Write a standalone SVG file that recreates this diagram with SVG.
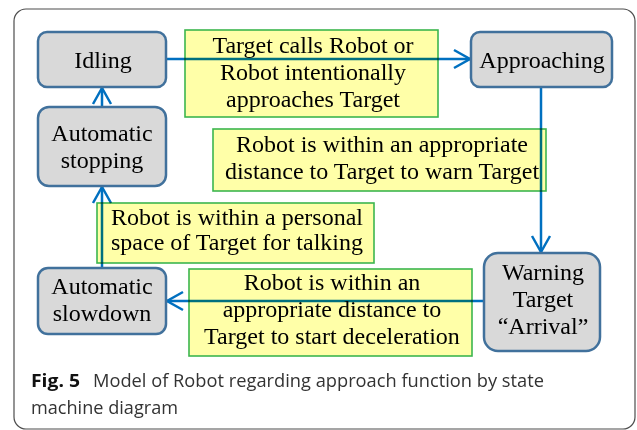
<svg xmlns="http://www.w3.org/2000/svg" width="637" height="430" viewBox="0 0 637 430">
  <style>
    .frame { fill: #ffffff; stroke: #4d4d4d; stroke-width: 1.2; }
    .state rect { fill: #d9d9d9; stroke: #41719c; stroke-width: 2.5; }
    .state text, .guard text { font-family: "Liberation Serif", "Times New Roman", serif; font-size: 24px; fill: #000000; text-anchor: middle; }
    .guard rect { fill: #ffffa8; stroke: #3cb64e; stroke-width: 1.6; mix-blend-mode: multiply; }
    .conn path { fill: none; stroke: #0070c0; stroke-width: 2.5; }
    .cap { font-family: "Open Sans", "Noto Sans", "DejaVu Sans", sans-serif; font-size: 18px; fill: #333333; }
    .cap .fig { font-weight: bold; fill: #111111; }
  </style>
  <defs>
    <marker id="open-arrow" markerUnits="userSpaceOnUse" markerWidth="20" markerHeight="22" refX="17" refY="10" orient="auto" overflow="visible">
      <path d="M1,1 L17,10 L1,19" fill="none" stroke="#0070c0" stroke-width="2.5" stroke-linejoin="miter"/>
    </marker>
  </defs>

  <rect class="frame" x="14" y="9" width="621" height="420" rx="12" ry="12"/>

  <!-- transitions (drawn under the guard labels) -->
  <g id="connectors" class="conn">
    <path d="M166,59 H470" marker-end="url(#open-arrow)"/>
    <path d="M541,87 V252" marker-end="url(#open-arrow)"/>
    <path d="M484,301 H167" marker-end="url(#open-arrow)"/>
    <path d="M102,268 V187" marker-end="url(#open-arrow)"/>
    <path d="M102,107 V88" marker-end="url(#open-arrow)"/>
  </g>

  <!-- states -->
  <g id="idling" class="state">
    <rect x="38" y="32" width="128" height="55" rx="9"/>
    <text x="103" y="68">Idling</text>
  </g>
  <g id="approaching" class="state">
    <rect x="471" y="32" width="141" height="55" rx="9"/>
    <text x="542" y="68">Approaching</text>
  </g>
  <g id="auto-stopping" class="state">
    <rect x="38" y="107" width="128" height="79" rx="11"/>
    <text x="102" y="141">Automatic</text>
    <text x="102" y="168">stopping</text>
  </g>
  <g id="auto-slowdown" class="state">
    <rect x="38" y="268" width="128" height="66" rx="10"/>
    <text x="102" y="294">Automatic</text>
    <text x="102" y="321">slowdown</text>
  </g>
  <g id="warning" class="state">
    <rect x="484" y="253" width="116" height="98" rx="14"/>
    <text x="543" y="280">Warning</text>
    <text x="543" y="307">Target</text>
    <text x="543" y="334">“Arrival”</text>
  </g>

  <!-- guard conditions -->
  <g id="guard-call" class="guard">
    <rect x="185" y="30" width="253" height="87"/>
    <text x="313" y="53">Target calls Robot or</text>
    <text x="313" y="80">Robot intentionally</text>
    <text x="313" y="107">approaches Target</text>
  </g>
  <g id="guard-warn" class="guard">
    <rect x="213" y="129" width="333" height="62"/>
    <text x="382" y="152">Robot is within an appropriate</text>
    <text x="382" y="179">distance to Target to warn Target</text>
  </g>
  <g id="guard-personal" class="guard">
    <rect x="97" y="203" width="277" height="60"/>
    <text x="237" y="225">Robot is within a personal</text>
    <text x="237" y="250">space of Target for talking</text>
  </g>
  <g id="guard-decel" class="guard">
    <rect x="189" y="269" width="283" height="87"/>
    <text x="332" y="290">Robot is within an</text>
    <text x="332" y="317">appropriate distance to</text>
    <text x="332" y="344">Target to start deceleration</text>
  </g>

  <!-- caption -->
  <text class="cap" x="31" y="387"><tspan class="fig" textLength="49" lengthAdjust="spacingAndGlyphs">Fig. 5</tspan><tspan x="93" textLength="451" lengthAdjust="spacingAndGlyphs">Model of Robot regarding approach function by state</tspan></text>
  <text class="cap" x="31" y="414" textLength="147" lengthAdjust="spacingAndGlyphs">machine diagram</text>
</svg>
